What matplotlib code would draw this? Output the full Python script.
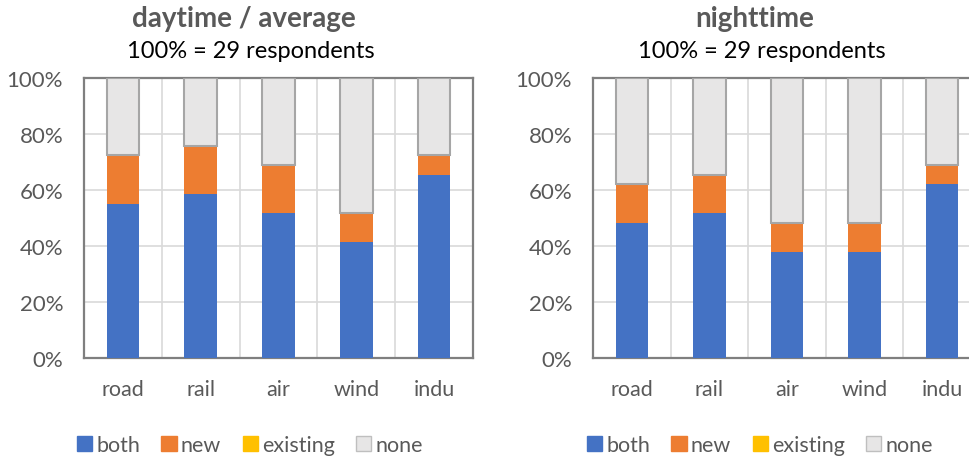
import matplotlib
matplotlib.use("Agg")
import matplotlib.pyplot as plt
from matplotlib.patches import Patch
import numpy as np

categories = ["road", "rail", "air", "wind", "indu"]
n_resp = 29
day_both = [16, 17, 15, 12, 19]
day_new = [5, 5, 5, 3, 2]
day_existing = [0, 0, 0, 0, 0]
night_both = [14, 15, 11, 11, 18]
night_new = [4, 4, 3, 3, 2]
night_existing = [0, 0, 0, 0, 0]
series = ["both", "new", "existing", "none"]
colors = ["#4472C4", "#ED7D31", "#FFC000", "#E7E6E6"]
yticks = [0, 20, 40, 60, 80, 100]

plt.rcParams['font.family'] = ['Lato', 'DejaVu Sans']
fig = plt.figure(figsize=(9.69, 4.6), dpi=100)
GRAY = "#595959"

def panel(rect, both, new, existing, title, tx, lx):
    ax = fig.add_axes(rect)
    x = np.arange(len(categories))
    b = np.array(both) / n_resp * 100
    n = np.array(new) / n_resp * 100
    e = np.array(existing) / n_resp * 100
    none = 100 - b - n - e
    w = 0.42
    ax.bar(x, b, w, color=colors[0], zorder=3)
    ax.bar(x, n, w, bottom=b, color=colors[1], zorder=3)
    ax.bar(x, e, w, bottom=b + n, color=colors[2], zorder=3)
    ax.bar(x, none, w, bottom=b + n + e, color=colors[3], edgecolor="#A6A6A6",
           linewidth=1.5, zorder=3)
    ax.set_xlim(-0.5, len(categories) - 0.5)
    ax.set_ylim(0, 100)
    ax.set_yticks(yticks)
    ax.set_yticklabels([f"{v}%" for v in yticks])
    ax.set_xticks(x)
    ax.set_xticklabels(categories)
    ax.set_xticks(np.arange(len(categories) + 1) - 0.5, minor=True)
    ax.grid(axis="y", which="major", color="#D9D9D9", lw=1.2, zorder=0)
    ax.grid(axis="x", which="minor", color="#D9D9D9", lw=1.2, zorder=0)
    ax.tick_params(axis="both", which="both", length=0)
    ax.tick_params(axis="x", pad=15, labelsize=15.5, labelcolor=GRAY)
    ax.tick_params(axis="y", pad=15, labelsize=16, labelcolor=GRAY)
    for s in ax.spines.values():
        s.set_color("#7F7F7F")
        s.set_linewidth(1.6)
    fig.text(tx, 1 - 19 / 460, title, ha="center", va="center", fontsize=20,
             fontweight="bold", color=GRAY)
    fig.text(tx + 0.007, 1 - 52 / 460, f"100% = {n_resp} respondents", ha="center",
             va="center", fontsize=17, color="black")
    handles = [Patch(facecolor=c, edgecolor=("#BFBFBF" if i == 3 else c), label=s)
               for i, (c, s) in enumerate(zip(colors, series))]
    fig.legend(handles=handles, loc="center", bbox_to_anchor=(lx, 1 - 446 / 460),
               ncol=4, frameon=False, fontsize=15.5, handlelength=0.7,
               handleheight=0.7, handletextpad=0.2, columnspacing=1.0,
               labelcolor=GRAY)
    return ax

panel([84 / 969, 1 - 359 / 460, 389 / 969, 280 / 460], day_both, day_new,
      day_existing, "daytime / average", 244 / 969, 250 / 969)
panel([593 / 969, 1 - 359 / 460, 388 / 969, 280 / 460], night_both, night_new,
      night_existing, "nighttime", 755 / 969, 760 / 969)

fig.savefig("out.png", dpi=100)
